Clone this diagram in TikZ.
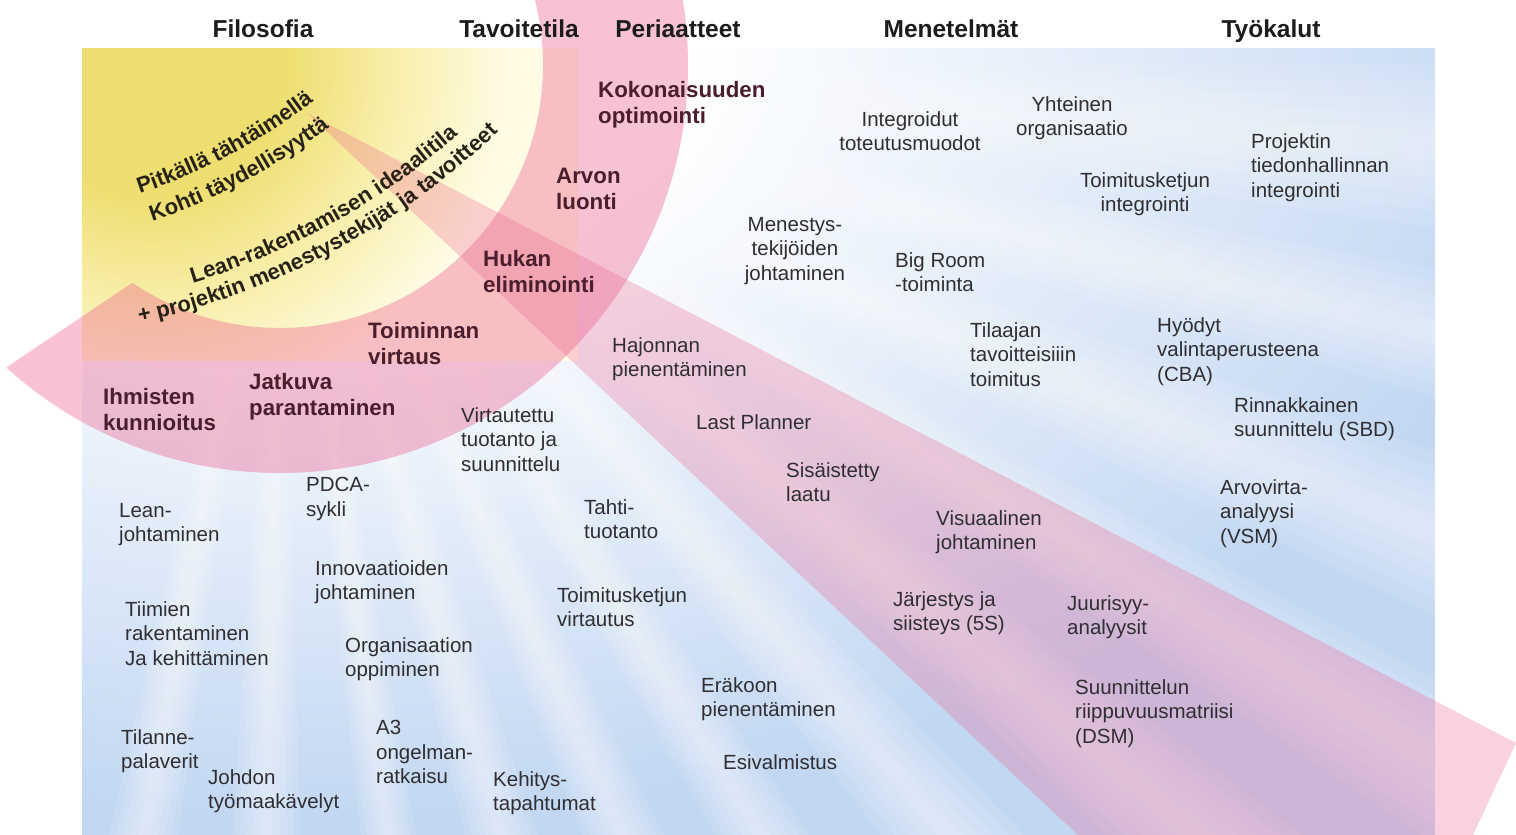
\documentclass[tikz,border=0pt]{standalone}
\usepackage{fontspec}
\setmainfont{Liberation Sans}
\usetikzlibrary{decorations.text}
\definecolor{bgblue}{RGB}{194,215,242}
\definecolor{yelA}{RGB}{238,222,112}
\definecolor{yelB}{RGB}{248,239,172}
\definecolor{yelC}{RGB}{255,251,228}
\definecolor{bandpink}{RGB}{236,95,140}
\definecolor{txtgray}{RGB}{48,46,50}
\definecolor{txtmaroon}{RGB}{74,30,46}
\definecolor{ytext}{RGB}{40,34,22}
\definecolor{hdtext}{RGB}{28,28,28}
\pgfdeclareradialshading{sunglow}{\pgfpoint{0bp}{0bp}}{color(0bp)=(white); color(7bp)=(white); color(25bp)=(bgblue); color(50bp)=(bgblue)}
\pgfdeclareradialshading{yelglow}{\pgfpoint{0bp}{0bp}}{color(0bp)=(yelA); color(6bp)=(yelA); color(11bp)=(yelB); color(16bp)=(yelC); color(50bp)=(yelC)}
\tikzset{
  hdr/.style={font=\bfseries\fontsize{24.5}{28}\selectfont, text=hdtext, anchor=base, inner sep=0pt},
  itm/.style={font=\fontsize{20.5}{24.5}\selectfont, text=txtgray, align=left, anchor=north west, inner sep=0pt},
  itmc/.style={font=\fontsize{20.5}{24.5}\selectfont, text=txtgray, align=center, anchor=north, inner sep=0pt},
  bld/.style={font=\bfseries\fontsize{22.3}{26}\selectfont, text=txtmaroon, align=left, anchor=north west, inner sep=0pt},
  arctext/.style={decorate, decoration={text along path, text align=center, text={|\color{ytext}\bfseries\fontsize{22}{26}\selectfont|#1}}},
}
\begin{document}
\begin{tikzpicture}[x=1pt,y=-1pt]
\useasboundingbox (0,0) rectangle (1516,835);
\clip (0,0) rectangle (1516,835);
% background panel
\fill[bgblue] (82,48) rectangle (1435,835);
\begin{scope}
  \clip (82,48) rectangle (1435,835);
  \shade[shading=sunglow] (330,60) ellipse (1250pt and 760pt);
  \begin{scope}[shift={(280,65)}]
    \foreach \a/\w in {4/4, 13/3, 22/3.5, 31/3, 40/3, 49/3, 58/2.5, 66/2.5, 74/2.5, 82/2, 91/2.5, 100/2.5}{
      \foreach \k in {1,0.8,0.6,0.4,0.2}{
        \fill[white, opacity=0.11] (0,0) -- (\a-\w*\k:1800) -- (\a+\w*\k:1800) -- cycle;
      }
    }
  \end{scope}
\end{scope}
% yellow area
\begin{scope}
  \clip (82,48) rectangle (578,360);
  \shade[shading=yelglow] (150,60) circle (560pt);
\end{scope}
% pink arc band
\begin{scope}
  \clip (-112,447) -- (193,242) -- (280,65) -- (280,-500) -- (1600,-500) -- (1600,1000) -- (-112,1000) -- cycle;
  \fill[bandpink, opacity=0.38, even odd rule] (280,65) circle (408pt) (280,65) circle (263pt);
\end{scope}
% pink wedge
\fill[bandpink, opacity=0.28] (307,113) -- (1516,743) -- (1473,835) -- (1078,835) -- cycle;

% headers
\node[hdr] (h1) at (263,37) {Filosofia};
\node[hdr] (h2) at (519,37) {Tavoitetila};
\node[hdr] (h3) at (678,37) {Periaatteet};
\node[hdr] (h4) at (951,37) {Menetelmät};
\node[hdr] (h5) at (1271,37) {Työkalut};

% arched texts in the yellow area
\coordinate (ca) at (-51,-375);
\coordinate (cb) at (-20,-410);
\path[arctext={Pitkällä tähtäimellä}] (ca) ++(74:600) arc[start angle=74, end angle=50, radius=600];
\path[arctext={Kohti täydellisyyttä}] (ca) ++(74:630) arc[start angle=74, end angle=50, radius=630];
\path[arctext={Lean-rakentamisen ideaalitila}] (cb) ++(76.5:725) arc[start angle=76.5, end angle=45.1, radius=725];
\path[arctext={+ projektin menestystekijät ja tavoitteet}] (cb) ++(82.5:750) arc[start angle=82.5, end angle=41.5, radius=750];

% principles (bold, in band)
\node[bld] (p1) at (598,81) {Kokonaisuuden\\optimointi};
\node[bld] (p2) at (556,168) {Arvon\\luonti};
\node[bld] (p3) at (483,250) {Hukan\\eliminointi};
\node[bld] (p4) at (368,322) {Toiminnan\\virtaus};
\node[bld] (p5) at (249,373) {Jatkuva\\parantaminen};
\node[bld] (p6) at (103,388) {Ihmisten\\kunnioitus};

% methods and tools
\node[itmc] (m1) at (910,111) {Integroidut\\toteutusmuodot};
\node[itmc] (m2) at (1072,96) {Yhteinen\\organisaatio};
\node[itm] (m3) at (1251,133) {Projektin\\tiedonhallinnan\\integrointi};
\node[itmc] (m4) at (1145,172) {Toimitusketjun\\integrointi};
\node[itmc] (m5) at (795,217) {Menestys-\\tekijöiden\\johtaminen};
\node[itm] (m6) at (895,252) {Big Room\\-toiminta};
\node[itm] (m7) at (970,322) {Tilaajan\\tavoitteisiiin\\toimitus};
\node[itm] (m8) at (1157,317) {Hyödyt\\valintaperusteena\\(CBA)};
\node[itm] (m9) at (1234,397) {Rinnakkainen\\suunnittelu (SBD)};
\node[itm] (m10) at (1220,479) {Arvovirta-\\analyysi\\(VSM)};
\node[itm] (m11) at (612,337) {Hajonnan\\pienentäminen};
\node[itm] (m12) at (696,414) {Last Planner};
\node[itm] (m13) at (786,462) {Sisäistetty\\laatu};
\node[itm] (m14) at (936,510) {Visuaalinen\\johtaminen};
\node[itm] (m15) at (893,591) {Järjestys ja\\siisteys (5S)};
\node[itm] (m16) at (1067,595) {Juurisyy-\\analyysit};
\node[itm] (m17) at (1075,679) {Suunnittelun\\riippuvuusmatriisi\\(DSM)};
\node[itm] (m18) at (701,677) {Eräkoon\\pienentäminen};
\node[itm] (m19) at (723,754) {Esivalmistus};
\node[itm] (m20) at (461,407) {Virtautettu\\tuotanto ja\\suunnittelu};
\node[itm] (m21) at (306,477) {PDCA-\\sykli};
\node[itm] (m22) at (584,499) {Tahti-\\tuotanto};
\node[itm] (m23) at (119,503) {Lean-\\johtaminen};
\node[itm] (m24) at (315,560) {Innovaatioiden\\johtaminen};
\node[itm] (m25) at (557,587) {Toimitusketjun\\virtautus};
\node[itm] (m26) at (125,601) {Tiimien\\rakentaminen\\Ja kehittäminen};
\node[itm] (m27) at (345,637) {Organisaation\\oppiminen};
\node[itm] (m28) at (376,720) {A3\\ongelman-\\ratkaisu};
\node[itm] (m29) at (121,729) {Tilanne-\\palaverit};
\node[itm] (m30) at (208,769) {Johdon\\työmaakävelyt};
\node[itm] (m31) at (493,771) {Kehitys-\\tapahtumat};
\end{tikzpicture}
\end{document}
